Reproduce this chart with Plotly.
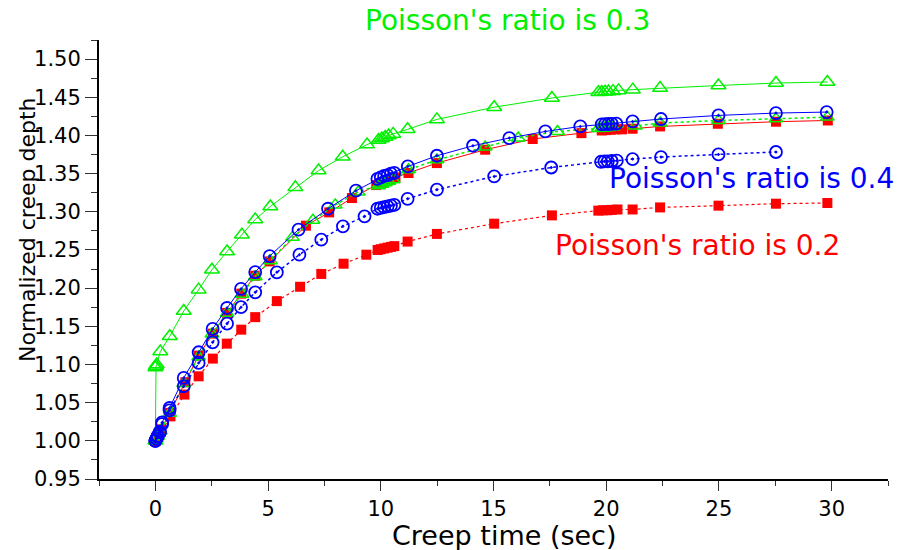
import plotly.graph_objects as go

# ---- data ----
t_g1 = [0, 0, 0.03, 0.06, 0.22, 0.64, 1.26, 1.92, 2.51, 3.18, 3.84, 4.43, 5.10, 6.21, 7.24, 8.31, 9.39,
        9.90, 10.05, 10.20, 10.35, 10.55, 11.19, 12.49, 15.03, 17.59, 19.65, 19.80, 19.95, 20.10, 20.30,
        20.55, 21.18, 22.39, 24.98, 27.53, 29.81]
v_g1 = [1.000, 1.096, 1.098, 1.100, 1.117, 1.137, 1.170, 1.198, 1.224, 1.248, 1.270, 1.290, 1.307, 1.332,
        1.354, 1.372, 1.388, 1.394, 1.396, 1.398, 1.400, 1.402, 1.408, 1.421, 1.437, 1.449, 1.4565, 1.457,
        1.4572, 1.4575, 1.458, 1.459, 1.460, 1.462, 1.4654, 1.4686, 1.470]

t_g2 = [0, 0.05, 0.1, 0.22, 0.64, 1.26, 1.92, 2.51, 3.18, 3.84, 4.43, 5.10, 6.08, 6.99, 7.98, 9.0, 9.9,
        10.05, 10.2, 10.35, 10.55, 11.23, 12.49, 14.63, 16.1, 17.84, 19.65, 19.8, 19.95, 20.1, 20.3, 21.3,
        22.39, 24.98, 27.53, 29.81]
v_g2 = [1.000, 1.003, 1.006, 1.013, 1.036, 1.075, 1.110, 1.140, 1.167, 1.192, 1.215, 1.236, 1.2665, 1.2888,
        1.309, 1.326, 1.334, 1.336, 1.338, 1.340, 1.342, 1.355, 1.368, 1.3848, 1.3966, 1.4052, 1.409, 1.4095,
        1.41, 1.4105, 1.411, 1.4125, 1.4162, 1.4196, 1.4218, 1.424]

t_r1 = [0, 0.05, 0.1, 0.25, 0.63, 1.33, 1.92, 2.55, 3.18, 3.81, 4.43, 5.07, 6.68, 7.71, 8.72, 9.8, 9.95,
        10.1, 10.25, 10.45, 10.65, 11.23, 12.49, 14.63, 16.74, 18.9, 19.8, 20.0, 20.2, 20.45, 20.7, 21.17,
        22.39, 24.95, 27.53, 29.83]
v_r1 = [1.000, 1.003, 1.006, 1.015, 1.0366, 1.0767, 1.1116, 1.1404, 1.1675, 1.1928, 1.2163, 1.235, 1.2818,
        1.2992, 1.318, 1.335, 1.337, 1.339, 1.341, 1.343, 1.345, 1.3508, 1.3638, 1.3813, 1.3953, 1.403,
        1.4065, 1.407, 1.4075, 1.408, 1.408, 1.4088, 1.4118, 1.4153, 1.418, 1.4196]

t_r2 = [0, 0.05, 0.1, 0.25, 0.67, 1.29, 1.92, 2.55, 3.17, 3.81, 4.43, 5.39, 6.42, 7.36, 8.35, 9.36, 9.86,
        10.0, 10.15, 10.3, 10.45, 10.6, 11.19, 12.49, 15.03, 17.59, 19.65, 19.85, 20.05, 20.25, 20.5, 21.17,
        22.39, 24.98, 27.53, 29.81]
v_r2 = [1.000, 1.002, 1.005, 1.012, 1.032, 1.0606, 1.0845, 1.1077, 1.1273, 1.1456, 1.162, 1.183, 1.2018,
        1.2186, 1.232, 1.2438, 1.250, 1.251, 1.252, 1.253, 1.254, 1.255, 1.261, 1.271, 1.2844, 1.2953,
        1.3015, 1.302, 1.302, 1.3025, 1.303, 1.303, 1.3057, 1.308, 1.3106, 1.3115]

t_b1 = [0, 0.05, 0.1, 0.2, 0.30, 0.63, 1.26, 1.92, 2.54, 3.18, 3.80, 4.43, 5.07, 6.35, 7.66, 8.90, 9.85,
        10.0, 10.15, 10.3, 10.45, 10.6, 11.2, 12.49, 14.09, 15.7, 17.3, 18.85, 19.8, 19.95, 20.1, 20.25,
        20.45, 21.17, 22.43, 24.98, 27.53, 29.78]
v_b1 = [1.000, 1.003, 1.006, 1.012, 1.024, 1.043, 1.0824, 1.116, 1.1466, 1.174, 1.199, 1.221, 1.242,
        1.2766, 1.304, 1.3276, 1.343, 1.345, 1.347, 1.348, 1.350, 1.351, 1.3594, 1.3734, 1.3865, 1.3966,
        1.4052, 1.4118, 1.4145, 1.4148, 1.415, 1.4152, 1.4155, 1.4183, 1.4215, 1.4262, 1.4293, 1.4306]

t_b2 = [0, 0.05, 0.1, 0.2, 0.30, 0.63, 1.26, 1.92, 2.54, 3.18, 3.80, 4.43, 5.39, 6.39, 7.36, 8.32, 9.28,
        9.85, 10.0, 10.15, 10.3, 10.45, 10.6, 11.19, 12.49, 15.03, 17.56, 19.77, 19.92, 20.07, 20.25, 20.47,
        21.17, 22.43, 24.98, 27.53]
v_b2 = [1.000, 1.003, 1.006, 1.011, 1.022, 1.040, 1.0715, 1.102, 1.129, 1.1535, 1.175, 1.1945, 1.2207,
        1.2438, 1.2635, 1.281, 1.294, 1.304, 1.305, 1.306, 1.307, 1.308, 1.309, 1.317, 1.329, 1.3463,
        1.358, 1.3655, 1.366, 1.366, 1.3665, 1.367, 1.369, 1.3717, 1.3751, 1.3783]

labels = ["Poisson's ratio is 0.3", "Poisson's ratio is 0.4", "Poisson's ratio is 0.2"]
x_title = "Creep time (sec)"
y_title = "Normalized creep depth"

GREEN = "#00f000"
RED = "#ff0000"
BLUE = "#0000ff"
FONT = "DejaVu Sans"

fig = go.Figure()

def add(t, v, color, dash, symbol, size, lw=1.0, mlw=1.5):
    fig.add_trace(go.Scatter(
        x=t, y=v, mode="lines+markers",
        line=dict(color=color, width=lw, dash=dash),
        marker=dict(symbol=symbol, size=size, color=color,
                    line=dict(color=color, width=mlw)),
        showlegend=False, cliponaxis=False))

add(t_r2, v_r2, RED, "dot", "square", 10, lw=1.2, mlw=0)
add(t_r1, v_r1, RED, "solid", "square", 10, mlw=0)
add(t_g2, v_g2, GREEN, "dot", "triangle-up-open", 12, lw=1.5)
add(t_g1, v_g1, GREEN, "solid", "triangle-up-open", 13)
add(t_b2, v_b2, BLUE, "dot", "circle-open-dot", 12, lw=1.5, mlw=1.8)
add(t_b1, v_b1, BLUE, "solid", "circle-open-dot", 12, mlw=1.8)

L, R, T, B = 99, 32, 40, 71
pw, ph = 920 - L - R, 550 - T - B

def px(x):
    return (x - L) / pw

def py(y):
    return (550 - B - y) / ph

annotations = [
    dict(text=labels[0], x=px(507), y=py(20), xanchor="center", yanchor="middle",
         font=dict(color=GREEN, size=28, family=FONT)),
    dict(text=labels[1], x=px(607), y=py(178), xanchor="left", yanchor="middle",
         font=dict(color=BLUE, size=28, family=FONT)),
    dict(text=labels[2], x=px(553), y=py(245), xanchor="left", yanchor="middle",
         font=dict(color=RED, size=28, family=FONT)),
    dict(text=x_title, x=px(504), y=py(535), xanchor="center", yanchor="middle",
         font=dict(color="black", size=27, family=FONT)),
    dict(text=y_title, x=px(27), y=py(230), xanchor="center", yanchor="middle", textangle=-90,
         font=dict(color="black", size=22, family=FONT)),
]
for a in annotations:
    a.update(xref="paper", yref="paper", showarrow=False)

fig.update_layout(
    width=920, height=550,
    margin=dict(l=L, r=R, t=T, b=B),
    paper_bgcolor="white", plot_bgcolor="white",
    font=dict(family=FONT, color="black"),
    annotations=annotations,
    xaxis=dict(range=[-2.5, 32.5], tick0=0, dtick=5, showgrid=False, zeroline=False,
               showline=True, linecolor="black", linewidth=2,
               ticks="outside", ticklen=10, tickwidth=1, tickcolor="#333",
               tickfont=dict(size=21, family=FONT),
               minor=dict(ticks="outside", ticklen=5, dtick=2.5, tick0=0, tickcolor="#333", showgrid=False)),
    yaxis=dict(range=[0.95, 1.525], tick0=0.95, dtick=0.05, tickformat=".2f", showgrid=False,
               zeroline=False, showline=True, linecolor="black", linewidth=2,
               ticks="outside", ticklen=12, tickwidth=1, tickcolor="#333",
               tickfont=dict(size=21, family=FONT),
               minor=dict(ticks="outside", ticklen=6, dtick=0.025, tick0=0.95, tickcolor="#333", showgrid=False)),
)

# remove the browser's default 8px body margin so the figure fills the window exactly
fig.write_html("out.html", config={"displayModeBar": False},
               post_script="document.body.style.margin='0px';document.body.style.overflow='hidden';")
